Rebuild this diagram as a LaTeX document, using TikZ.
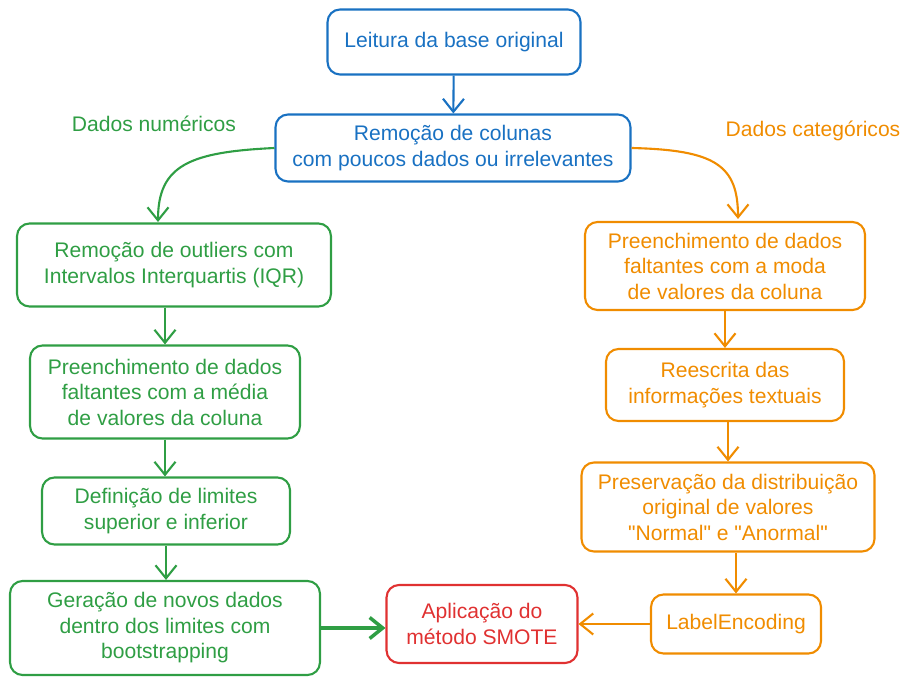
\documentclass[tikz,border=0pt]{standalone}
\usepackage{fontspec}
\setmainfont{Liberation Sans}
\usetikzlibrary{arrows.meta}
\definecolor{azul}{HTML}{1971C2}
\definecolor{verde}{HTML}{2F9E44}
\definecolor{vermelho}{HTML}{E03131}
\definecolor{laranja}{HTML}{F08C00}
\tikzstyle{caixa}=[rectangle,rounded corners=0.25cm,line width=1.2pt,align=center,inner sep=0pt,font=\fontsize{12}{14.5}\selectfont]
\tikzstyle{seta}=[line width=1.2pt,-{Straight Barb[length=2.6mm,width=4.2mm]}]
\tikzstyle{rotulo}=[font=\fontsize{12}{14}\selectfont]

\begin{document}
\begin{tikzpicture}[x=0.02cm,y=-0.02cm]
			\useasboundingbox (0,0) rectangle (913,685);
			
			\node (leitura) at (454,42) [caixa,draw=azul,text=azul,minimum width=5.06cm,minimum height=1.3cm] {Leitura da base original};
			\node (remocao) at (453,148) [caixa,draw=azul,text=azul,minimum width=7.1cm,minimum height=1.34cm] {Remoção de colunas\\com poucos dados ou irrelevantes};
			
			\node (outliers) at (174,265) [caixa,draw=verde,text=verde,minimum width=6.28cm,minimum height=1.66cm] {Remoção de outliers com\\Intervalos Interquartis (IQR)};
			\node (media) at (165,392) [caixa,draw=verde,text=verde,minimum width=5.4cm,minimum height=1.86cm] {Preenchimento de dados\\faltantes com a média\\de valores da coluna};
			\node (limites) at (166,511) [caixa,draw=verde,text=verde,minimum width=4.96cm,minimum height=1.34cm] {Definição de limites\\superior e inferior};
			\node (geracao) at (165,628) [caixa,draw=verde,text=verde,minimum width=6.2cm,minimum height=1.88cm] {Geração de novos dados\\dentro dos limites com\\bootstrapping};
			
			\node (smote) at (482,624) [caixa,draw=vermelho,text=vermelho,minimum width=3.82cm,minimum height=1.56cm] {Aplicação do\\método SMOTE};
			
			\node (moda) at (725,266) [caixa,draw=laranja,text=laranja,minimum width=5.6cm,minimum height=1.76cm] {Preenchimento de dados\\faltantes com a moda\\de valores da coluna};
			\node (reescrita) at (725,385) [caixa,draw=laranja,text=laranja,minimum width=4.76cm,minimum height=1.44cm] {Reescrita das\\informações textuais};
			\node (preservacao) at (728,507) [caixa,draw=laranja,text=laranja,minimum width=5.86cm,minimum height=1.78cm] {Preservação da distribuição\\original de valores\\\textquotedbl Normal\textquotedbl\ e \textquotedbl Anormal\textquotedbl};
			\node (labelenc) at (736,624) [caixa,draw=laranja,text=laranja,minimum width=3.4cm,minimum height=1.18cm] {LabelEncoding};
			
			\node (numericos) at (154,124) [rotulo,text=verde] {Dados numéricos};
			\node (categoricos) at (813,131) [rotulo,text=laranja] {Dados categóricos};
			
			\coordinate (numin) at (158,222);
			\coordinate (catin) at (738,219);
			
			\draw [seta,azul] (leitura) -- (remocao);
			\draw [seta,verde] (remocao.west) .. controls (190,152) and (158,165) .. (numin);
			\draw [seta,laranja] (remocao.east) .. controls (715,150) and (738,165) .. (catin);
			
			\draw [seta,verde] (media.north |- outliers.south) -- (media.north);
			\draw [seta,verde] (media.south) -- (media.south |- limites.north);
			\draw [seta,verde] (limites.south) -- (limites.south |- geracao.north);
			\draw [seta,verde,line width=2pt] (geracao.east) -- (geracao.east -| smote.west);
			
			\draw [seta,laranja] (moda) -- (reescrita);
			\draw [seta,laranja] (preservacao.north |- reescrita.south) -- (preservacao.north);
			\draw [seta,laranja] (labelenc.north |- preservacao.south) -- (labelenc.north);
			\draw [seta,laranja] (labelenc.west) -- (smote.east);
		\end{tikzpicture}
\end{document}
